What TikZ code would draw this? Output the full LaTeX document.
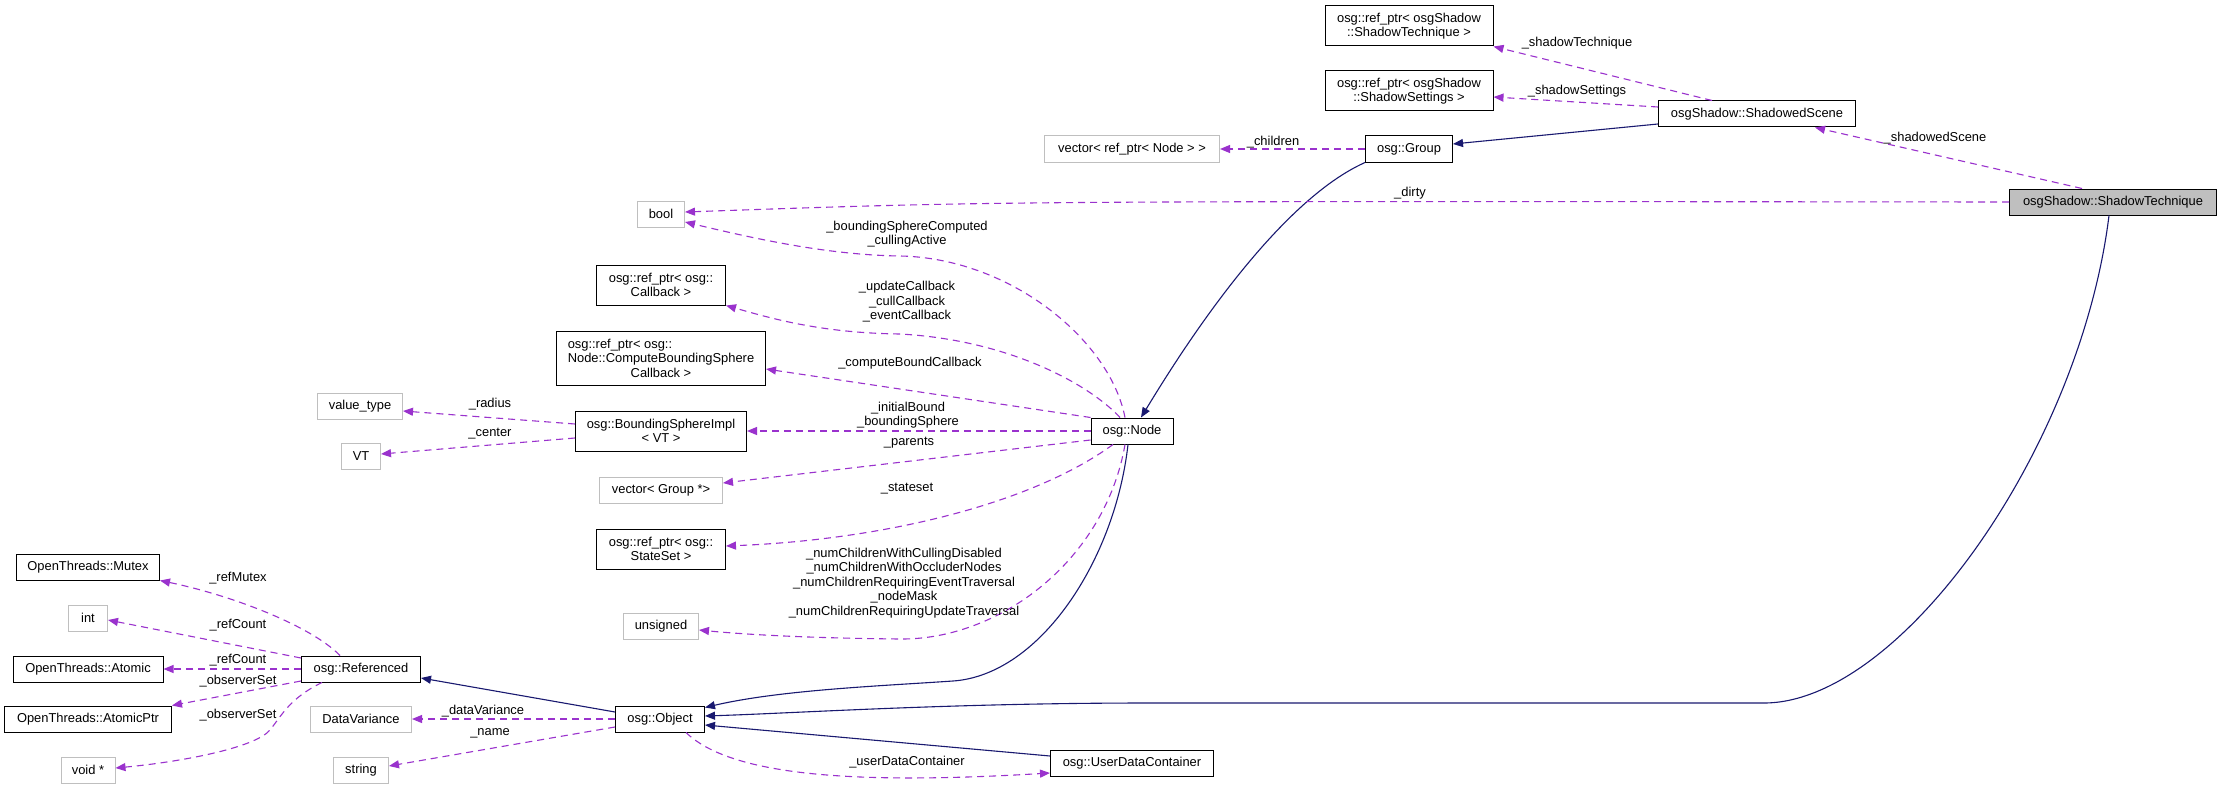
\documentclass[tikz,border=0pt]{standalone}
\usepackage{fontspec}
\setmainfont{Liberation Sans}
\usetikzlibrary{arrows.meta}

\definecolor{inhcol}{HTML}{191970}
\definecolor{usecol}{HTML}{9A32CD}
\definecolor{extcol}{HTML}{BFBFBF}

\newlength{\linew}

\tikzset{
  cls/.style={draw=black, fill=white, line width=1pt, inner sep=0pt, align=center,
    minimum height=26pt, font=\fontsize{12.9}{14.5}\selectfont},
  ext/.style={cls, draw=extcol},
  lbl/.style={inner sep=0pt, align=center, font=\fontsize{12.9}{14.5}\selectfont},
  inherit/.style={draw=inhcol, line width=1.1pt, -{Triangle[length=10pt,width=8pt]}},
  member/.style={draw=usecol, line width=1.1pt, dash pattern=on 7pt off 5pt,
    -{Triangle[length=10pt,width=8pt]}}
}

\begin{document}
\begin{tikzpicture}[x=1pt, y=-1pt]

\path [fill=white, use as bounding box] (0,0) rectangle (2221,789);

%% osgShadow side
\node [cls, fill=extcol, minimum width=207] (tech) at (2113,202) {osgShadow::ShadowTechnique};
\node [cls, minimum width=197] (scene) at (1757,114) {osgShadow::ShadowedScene};
\node [cls, minimum width=168, minimum height=40] (techptr) at (1409,26) {osg::ref\_ptr< osgShadow\\::ShadowTechnique >};
\node [cls, minimum width=168, minimum height=40] (settptr) at (1409,91) {osg::ref\_ptr< osgShadow\\::ShadowSettings >};
\node [cls, minimum width=87] (group) at (1409,149) {osg::Group};

%% osg::Node column
\node [ext, minimum width=175] (vecnode) at (1132,149) {vector< ref\_ptr< Node > >};
\node [cls, minimum width=82] (node) at (1132,431) {osg::Node};
\node [cls, minimum width=163] (udc) at (1132,763) {osg::UserDataContainer};

%% members of osg::Node
\node [ext, minimum width=47] (bool) at (661,214) {bool};
\node [cls, minimum width=129, minimum height=40] (cbptr) at (661,285) {osg::ref\_ptr< osg::\\Callback >};
\node [cls, minimum width=209, minimum height=54] (cbsptr) at (661,358)
  {\settowidth{\linew}{Node::ComputeBoundingSphere}\makebox[\linew][l]{osg::ref\_ptr< osg::}\\Node::ComputeBoundingSphere\\Callback >};
\node [cls, minimum width=171, minimum height=40] (bsi) at (661,431) {osg::BoundingSphereImpl\\< VT >};
\node [ext, minimum width=123] (vecgrp) at (661,490) {vector< Group *>};
\node [cls, minimum width=129, minimum height=40] (ssptr) at (661,549) {osg::ref\_ptr< osg::\\StateSet >};
\node [ext, minimum width=75] (unsigned) at (661,626) {unsigned};
\node [cls, minimum width=89] (obj) at (660,719) {osg::Object};

\node [ext, minimum width=85] (valtype) at (360,406) {value\_type};
\node [ext, minimum width=39] (vt) at (361,456) {VT};
\node [cls, minimum width=119] (ref) at (361,669) {osg::Referenced};
\node [ext, minimum width=101] (datavar) at (361,719) {DataVariance};
\node [ext, minimum width=55] (string) at (361,770) {string};

%% OpenThreads column
\foreach \n/\t/\y/\w in {mutex/OpenThreads::Mutex/567/143, atomic/OpenThreads::Atomic/669/150, atomptr/OpenThreads::AtomicPtr/719/167}
  \node [cls, minimum width=\w] (\n) at (88,\y) {\t};
\foreach \n/\t/\y/\w in {int/int/618/39, voidp/void */770/54}
  \node [ext, minimum width=\w] (\n) at (88,\y) {\t};

%% inheritance
\draw [inherit] (group.south west) .. controls (1270,205) and (1170,370) .. ([xshift=9pt]node.north);
\draw [inherit] ([yshift=-10pt]scene.west) -- ([yshift=5pt]group.east);
\draw [inherit] ([xshift=-4pt]node.south) .. controls (1115,560) and (1040,675) .. (953,681)
  .. controls (880,686) and (780,690) .. ([yshift=-2pt]obj.north east);
\draw [inherit] ([xshift=-4pt]tech.south) .. controls (2080,450) and (1900,703) .. (1764,703)
  -- (1150,703) .. controls (950,703) and (800,713) .. ([yshift=3pt]obj.east);
\draw [inherit] ([yshift=7pt]udc.west) -- ([yshift=-6pt]obj.east);
\draw [inherit] ([yshift=7pt]obj.west) -- ([yshift=-9pt]ref.east);

%% members
\draw [member] ([xshift=-31pt]tech.north) -- ([xshift=58pt]scene.south);
\draw [member] (tech.west) .. controls (1000,201) .. ([yshift=2pt]bool.east);
\draw [member] ([xshift=-45pt]scene.north) -- (techptr.south east);
\draw [member] ([yshift=7pt]scene.west) -- ([yshift=-6pt]settptr.east);
\draw [member] (group.west) -- (vecnode.east);

\draw [member] ([xshift=-7pt]node.north) .. controls (1110,340) and (1010,258) .. (900,256)
  .. controls (830,255) and (760,240) .. ([yshift=-8pt]bool.east);
\draw [member] ([xshift=-12pt]node.north) .. controls (1090,385) and (1010,340) .. (900,334)
  .. controls (820,333) and (770,318) .. (cbptr.south east);
\draw [member] (node.north west) -- ([yshift=-11pt]cbsptr.east);
\draw [member] (node.west) -- (bsi.east);
\draw [member] ([yshift=-9pt]node.west) -- ([yshift=7pt]vecgrp.east);
\draw [member] ([xshift=-19pt]node.south) .. controls (1030,505) and (880,540) .. ([yshift=3pt]ssptr.east);
\draw [member] ([xshift=-7pt]node.south) .. controls (1105,560) and (1000,640) .. (900,639)
  .. controls (800,638) and (740,634) .. ([yshift=-4pt]unsigned.east);

\draw [member] ([yshift=7pt]bsi.west) -- ([yshift=-5pt]valtype.east);
\draw [member] ([yshift=-7pt]bsi.west) -- ([yshift=2pt]vt.east);

\draw [member] (obj.west) -- (datavar.east);
\draw [member] ([yshift=-8pt]obj.west) -- ([yshift=4pt]string.east);
\draw [member] ([xshift=26pt]obj.south) .. controls (730,775) and (850,785) .. ([yshift=-10pt]udc.west);

\draw [member] ([xshift=-21pt]ref.north) .. controls (310,625) and (230,595) .. (mutex.south east);
\draw [member] ([yshift=11pt]ref.west) -- ([yshift=-2pt]int.east);
\draw [member] (ref.west) -- (atomic.east);
\draw [member] ([yshift=-12pt]ref.west) -- (atomptr.north east);
\draw [member] ([xshift=-39pt]ref.south) .. controls (290,698) and (282,715) .. (270,730)
  .. controls (255,748) and (180,762) .. ([yshift=2pt]voidp.east);

%% edge labels
\foreach \n/\x/\y/\t in {shtech/1577/43/\_shadowTechnique, shsett/1577/91/\_shadowSettings,
    shscene/1935/138/\_shadowedScene, children/1273/142/\_children, dirty/1410/193/\_dirty,
    bsc/907/234/\_boundingSphereComputed\\\_cullingActive,
    cbs/907/302/\_updateCallback\\\_cullCallback\\\_eventCallback,
    cbound/910/363/\_computeBoundCallback, ibound/908/415/\_initialBound\\\_boundingSphere,
    parents/909/443/\_parents, stateset/907/489/\_stateset,
    radius/490/404/\_radius, center/490/434/\_center,
    refmutex/238/578/\_refMutex, refcount/238/625/\_refCount, refcounta/238/660/\_refCount,
    obsset/238/681/\_observerSet, obsseta/238/715/\_observerSet,
    datavar/483/711/\_dataVariance, name/490/733/\_name, udc/907/762/\_userDataContainer}
  \node [lbl] (lbl-\n) at (\x,\y) {\t};

\node [lbl] (lbl-counts) at (904,583) {\_numChildrenWithCullingDisabled\\\_numChildrenWithOccluderNodes\\\_numChildrenRequiringEventTraversal\\\_nodeMask\\\_numChildrenRequiringUpdateTraversal};

\end{tikzpicture}
\end{document}
